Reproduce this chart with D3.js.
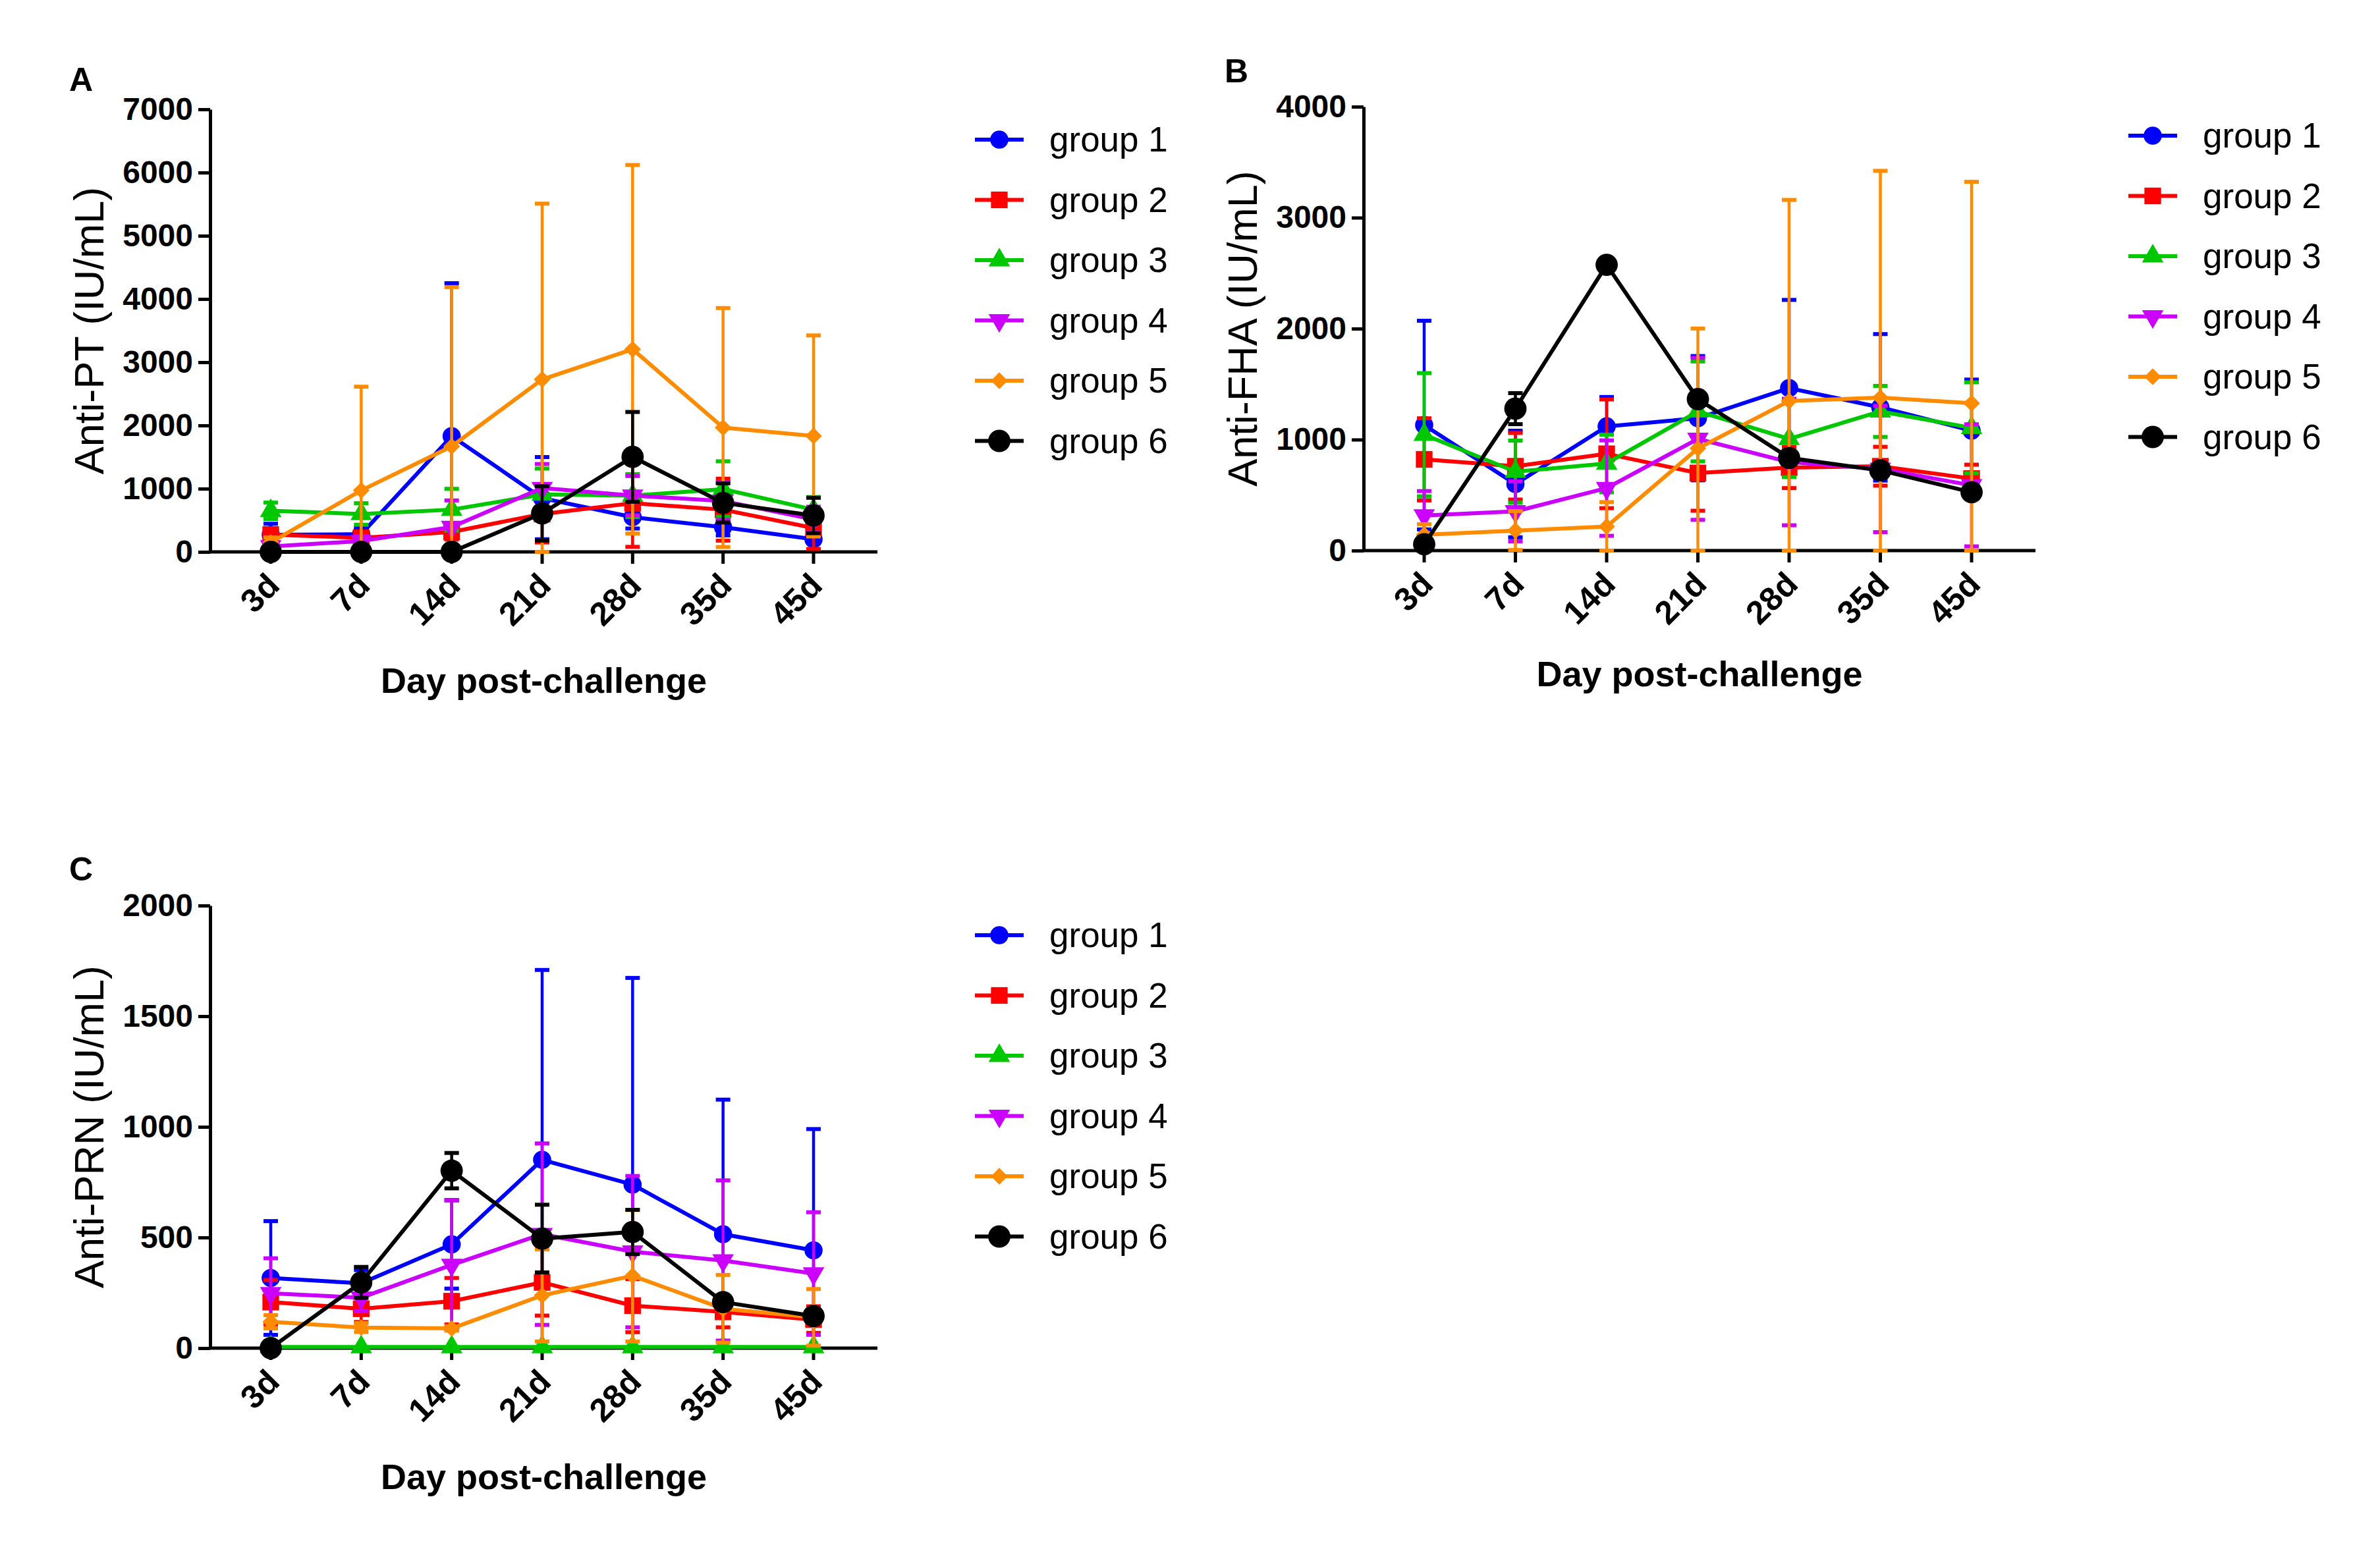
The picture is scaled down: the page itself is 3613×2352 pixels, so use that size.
<!DOCTYPE html>
<html>
<head>
<meta charset="utf-8">
<script src="https://cdn.jsdelivr.net/npm/d3@7"></script>
<style>
    body { margin: 0; background: #fff; }
    svg { display: block; font-family: "Liberation Sans", Arial, sans-serif; }
</style>
</head>
<body>
<svg id="chart" width="3613" height="2352"></svg>
<script>
const days = ["3d", "7d", "14d", "21d", "28d", "35d", "45d"];
const groupNames = ["group 1", "group 2", "group 3", "group 4", "group 5", "group 6"];
const groupColors = ["#0000FF", "#FF0000", "#00C800", "#CC00FF", "#FF8C00", "#000000"];
const groupShapes = ["circle", "square", "triangleUp", "triangleDown", "diamond", "bigCircle"];

// Anti-PT, mean and SD per group (rows) and day (columns)
const ptMean = [
    [270, 280, 1830, 850, 550, 390, 200],
    [274, 222, 315, 600, 770, 668, 377],
    [650, 600, 668, 908, 890, 993, 668],
    [86, 171, 394, 1010, 890, 805, 514],
    [150, 973, 1669, 2728, 3205, 1967, 1834],
    [0, 0, 0, 609, 1503, 775, 576]
];
const ptSd = [
    [175, 100, 2420, 650, 180, 130, 60],
    [100, 50, 120, 450, 690, 490, 330],
    [130, 170, 330, 410, 340, 440, 200],
    [60, 80, 420, 380, 310, 300, 200],
    [80, 1640, 2520, 2780, 2915, 1890, 1590],
    [0, 0, 0, 430, 710, 310, 280]
];

// Anti-FHA
const fhaMean = [
    [1131, 600, 1119, 1193, 1464, 1291, 1081],
    [822, 760, 872, 699, 748, 760, 649],
    [1044, 711, 785, 1254, 1007, 1254, 1106],
    [316, 353, 563, 1007, 798, 736, 588],
    [143, 180, 217, 921, 1348, 1378, 1328],
    [57, 1279, 2575, 1365, 835, 723, 526]
];
const fhaSd = [
    [940, 480, 265, 560, 795, 660, 460],
    [370, 300, 490, 340, 185, 175, 125],
    [555, 280, 260, 450, 345, 230, 410],
    [220, 270, 430, 730, 570, 570, 550],
    [95, 175, 220, 1080, 1812, 2044, 1995],
    [10, 140, 20, 40, 30, 30, 20]
];

// Anti-PRN
const prnMean = [
    [317, 293, 469, 851, 739, 515, 442],
    [208, 178, 212, 297, 192, 164, 129],
    [5, 5, 5, 5, 5, 5, 5],
    [248, 228, 376, 515, 436, 396, 337],
    [119, 93, 89, 238, 327, 178, 139],
    [0, 297, 802, 495, 525, 208, 145]
];
const prnSd = [
    [257, 60, 200, 858, 934, 608, 548],
    [100, 60, 105, 150, 120, 70, 60],
    [0, 0, 0, 0, 0, 0, 0],
    [158, 60, 291, 410, 342, 362, 277],
    [30, 20, 10, 208, 297, 153, 128],
    [0, 70, 80, 153, 100, 20, 20]
];

const ptTicks = [0, 1000, 2000, 3000, 4000, 5000, 6000, 7000];
const fhaTicks = [0, 1000, 2000, 3000, 4000];
const prnTicks = [0, 500, 1000, 1500, 2000];

const svg = d3.select("#chart");

function symbolPath(shape) {
    switch (shape) {
        case "circle": return d3.symbol(d3.symbolCircle, 600)();
        case "bigCircle": return d3.symbol(d3.symbolCircle, 900)();
        case "square": return d3.symbol(d3.symbolSquare, 640)();
        case "triangleUp": return d3.symbol(d3.symbolTriangle, 460)();
        case "triangleDown": return d3.symbol(d3.symbolTriangle, 460)();
        case "diamond": return d3.symbol(d3.symbolSquare, 320)();
    }
}

function symbolRotation(shape) {
    if (shape === "triangleDown") return 180;
    if (shape === "diamond") return 45;
    return 0;
}

function drawMarker(g, shape, color, x, y) {
    g.append("path")
        .attr("d", symbolPath(shape))
        .attr("transform", `translate(${x},${y}) rotate(${symbolRotation(shape)})`)
        .attr("fill", color);
}

function drawPanel(p) {
    const g = svg.append("g");

    const x = d3.scalePoint().domain(days).range([p.axisX + 92, p.axisEnd - 97]);
    const y = d3.scaleLinear().domain([0, p.yMax]).range([p.bottom, p.top]);

    // panel letter
    g.append("text")
        .attr("x", p.letterX)
        .attr("y", p.letterY)
        .attr("text-anchor", "middle")
        .attr("font-size", 50)
        .attr("font-weight", "bold")
        .text(p.letter);

    // y axis
    const yAxis = g.append("g")
        .attr("transform", `translate(${p.axisX},0)`)
        .call(d3.axisLeft(y).tickValues(p.ticks).tickSize(18).tickSizeOuter(0).tickPadding(8).tickFormat(d3.format("d")));
    yAxis.select(".domain").attr("stroke", "#000").attr("stroke-width", 5);
    yAxis.selectAll(".tick line").attr("stroke", "#000").attr("stroke-width", 5);
    yAxis.selectAll(".tick text")
        .attr("font-size", 48)
        .attr("font-weight", "bold")
        .attr("font-family", "'Liberation Sans', Arial, sans-serif")
        .attr("fill", "#000");

    // x axis
    g.append("line")
        .attr("x1", p.axisX - 2)
        .attr("x2", p.axisEnd)
        .attr("y1", p.bottom)
        .attr("y2", p.bottom)
        .attr("stroke", "#000")
        .attr("stroke-width", 5);

    const xTicks = g.append("g").selectAll("g").data(days).join("g")
        .attr("transform", d => `translate(${x(d)},${p.bottom})`);
    xTicks.append("line")
        .attr("y2", 18)
        .attr("stroke", "#000")
        .attr("stroke-width", 5);
    xTicks.append("text")
        .attr("transform", "translate(16,54) rotate(-45)")
        .attr("text-anchor", "end")
        .attr("font-size", 50)
        .attr("font-weight", "bold")
        .text(d => d);

    // axis titles
    g.append("text")
        .attr("transform", `translate(${p.axisX - 162},${(p.top + p.bottom) / 2}) rotate(-90)`)
        .attr("text-anchor", "middle")
        .attr("font-size", 63)
        .text(p.yTitle);

    g.append("text")
        .attr("x", (p.axisX + p.axisEnd) / 2)
        .attr("y", p.bottom + p.xTitleGap)
        .attr("text-anchor", "middle")
        .attr("font-size", 54)
        .attr("font-weight", "bold")
        .text("Day post-challenge");

    // series
    const line = d3.line().x((d, i) => x(days[i])).y(d => y(d));

    p.means.forEach((means, gi) => {
        const color = groupColors[gi];
        const sg = g.append("g");

        means.forEach((m, i) => {
            const cx = x(days[i]);
            const sd = p.sds[gi][i];
            if (sd <= 0) return;
            const hi = y(m + sd);
            const lo = y(Math.max(0, m - sd));
            sg.append("line")
                .attr("x1", cx).attr("x2", cx)
                .attr("y1", hi).attr("y2", lo)
                .attr("stroke", color).attr("stroke-width", 4.5);
            [hi, lo].forEach(yy => {
                sg.append("line")
                    .attr("x1", cx - 11).attr("x2", cx + 11)
                    .attr("y1", yy).attr("y2", yy)
                    .attr("stroke", color).attr("stroke-width", 6);
            });
        });

        sg.append("path")
            .datum(means)
            .attr("d", line)
            .attr("fill", "none")
            .attr("stroke", color)
            .attr("stroke-width", 6)
            .attr("stroke-linejoin", "round");

        means.forEach((m, i) => drawMarker(sg, groupShapes[gi], color, x(days[i]), y(m)));
    });

    // legend
    const legend = g.append("g");
    groupNames.forEach((name, gi) => {
        const ly = p.legendY + gi * 91.5;
        legend.append("line")
            .attr("x1", p.legendX - 37)
            .attr("x2", p.legendX + 37)
            .attr("y1", ly).attr("y2", ly)
            .attr("stroke", groupColors[gi])
            .attr("stroke-width", 6);
        drawMarker(legend, groupShapes[gi], groupColors[gi], p.legendX, ly);
        legend.append("text")
            .attr("x", p.legendX + 76)
            .attr("y", ly + 18)
            .attr("font-size", 53)
            .text(name);
    });
}

drawPanel({
    letter: "A", letterX: 123, letterY: 138,
    axisX: 319, axisEnd: 1332, top: 166, bottom: 838,
    yMax: 7000, ticks: ptTicks, yTitle: "Anti-PT (IU/mL)",
    means: ptMean, sds: ptSd, xTitleGap: 214,
    legendX: 1517, legendY: 212
});

drawPanel({
    letter: "B", letterX: 1877, letterY: 125,
    axisX: 2070, axisEnd: 3090, top: 162, bottom: 836,
    yMax: 4000, ticks: fhaTicks, yTitle: "Anti-FHA (IU/mL)",
    means: fhaMean, sds: fhaSd, xTitleGap: 206,
    legendX: 3268, legendY: 206
});

drawPanel({
    letter: "C", letterX: 123, letterY: 1337,
    axisX: 319, axisEnd: 1332, top: 1375, bottom: 2047,
    yMax: 2000, ticks: prnTicks, yTitle: "Anti-PRN (IU/mL)",
    means: prnMean, sds: prnSd, xTitleGap: 214,
    legendX: 1517, legendY: 1420
});
</script>
</body>
</html>
